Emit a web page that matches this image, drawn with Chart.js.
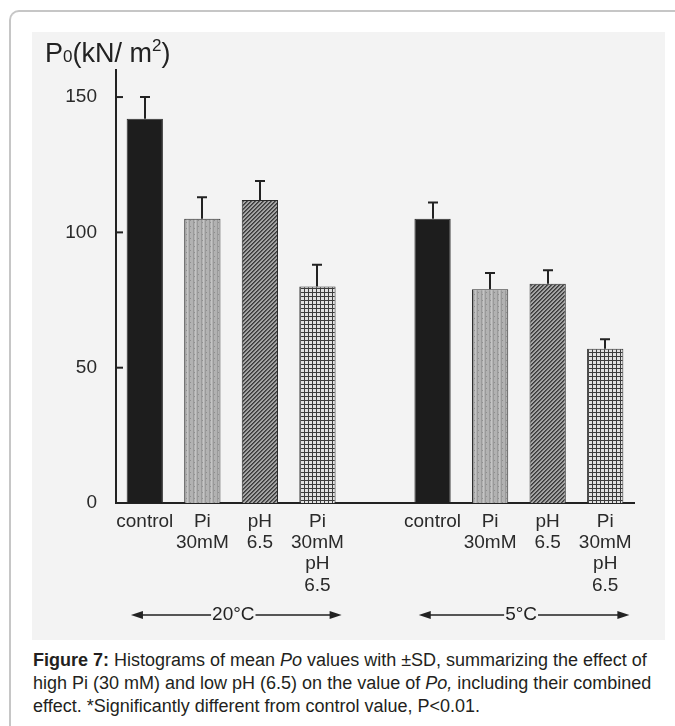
<!DOCTYPE html>
<html>
<head>
<meta charset="utf-8">
<script src="https://cdn.jsdelivr.net/npm/chart.js@4.4.1/dist/chart.umd.min.js"></script>
<style>
  html, body { margin: 0; padding: 0; background: #ffffff; overflow: hidden; }
  body { width: 675px; height: 726px; position: relative;
         font-family: "Liberation Sans", Arial, Helvetica, sans-serif; }
  #frame { position: absolute; left: 0; top: 0; width: 675px; height: 726px; overflow: hidden; }
  #card { position: absolute; left: 9px; top: 10px; width: 700px; height: 760px;
          border-top: 2px solid #c6c6c6; border-left: 2px solid #c6c6c6;
          border-top-left-radius: 10px; box-sizing: border-box; }
  #paper { position: absolute; left: 32px; top: 32px; width: 633px; height: 608px;
           background: #f3f3f3; }
  #paper canvas { position: absolute; left: 0; top: 0; }
  #caption { position: absolute; left: 33px; top: 649px; font-size: 18px;
             line-height: 23px; color: #231f20; white-space: nowrap; }
</style>
</head>
<body>
<div id="frame">
  <div id="card"></div>
  <div id="paper"><canvas id="chart"></canvas></div>
  <div id="caption"><b>Figure 7:</b> Histograms of mean <i>Po</i> values with ±SD, summarizing the effect of<br>high Pi (30 mM) and low pH (6.5) on the value of <i>Po,</i> including their combined<br>effect. *Significantly different from control value, P&lt;0.01.</div>
</div>
<script>
// Conditions along the x axis; the empty slot separates the two temperatures.
const categories = [
  ['control'], ['Pi', '30mM'], ['pH', '6.5'], ['Pi', '30mM', 'pH', '6.5'],
  '',
  ['control'], ['Pi', '30mM'], ['pH', '6.5'], ['Pi', '30mM', 'pH', '6.5']
];
// Mean isometric tension Po (kN/m²) and its SD
const meanPo = [142, 105, 112, 80, null, 105, 79, 81, 57];
const sdPo   = [8, 8, 7, 8, null, 6, 6, 5, 3.5];
// Fill style key per bar
const fillKind = ['solid', 'stipple', 'hatch', 'grid', 'solid', 'solid', 'stipple', 'hatch', 'grid'];
// Temperature groups beneath the labels
const groupNames = ['20°C', '5°C'];
const groupFrom  = [0, 5];
const groupTo    = [3, 8];
// Y-axis ticks
const yTicks = [0, 50, 100, 150];

function makeTile(w, h, draw) {
  const c = document.createElement('canvas');
  c.width = w; c.height = h;
  draw(c.getContext('2d'));
  return document.createElement('canvas').getContext('2d').createPattern(c, 'repeat');
}
const fills = {
  solid: '#1d1d1d',
  stipple: makeTile(8, 6, g => {
    g.fillStyle = '#b2b2b2'; g.fillRect(0, 0, 8, 6);
    g.fillStyle = '#9a9a9a'; g.fillRect(1, 0, 1, 6); g.fillRect(5, 0, 1, 6);
    g.fillStyle = '#c4c4c4'; g.fillRect(3, 0, 1, 6);
    g.fillStyle = '#8e8e8e'; g.fillRect(6, 2, 1, 1); g.fillRect(2, 4, 1, 1);
  }),
  hatch: makeTile(4, 4, g => {
    g.fillStyle = '#a4a4a4'; g.fillRect(0, 0, 4, 4);
    g.fillStyle = '#3a3a3a';
    for (let i = 0; i < 4; i++) { g.fillRect(i, 3 - i, 1, 1); }
    g.fillStyle = '#5a5a5a';
    for (let i = 0; i < 4; i++) { g.fillRect((i + 1) % 4, 3 - i, 1, 1); }
  }),
  grid: makeTile(4, 4, g => {
    g.fillStyle = '#e2e2e2'; g.fillRect(0, 0, 4, 4);
    g.fillStyle = '#3c3c3c'; g.fillRect(0, 0, 4, 1); g.fillRect(0, 0, 1, 4);
  })
};

const ink = '#222222';
const font = '"Liberation Sans", Arial, Helvetica, sans-serif';

const decor = {
  id: 'decor',
  afterDatasetsDraw(chart) {
    const { ctx, chartArea } = chart;
    const x = chart.scales.x, y = chart.scales.y;
    ctx.save();
    // upper SD whiskers
    ctx.strokeStyle = ink; ctx.lineWidth = 2;
    meanPo.forEach((m, i) => {
      if (m == null) return;
      const cx = Math.round(x.getPixelForValue(i));
      const y0 = y.getPixelForValue(m), y1 = y.getPixelForValue(m + sdPo[i]);
      ctx.beginPath();
      ctx.moveTo(cx, y0); ctx.lineTo(cx, y1);
      ctx.moveTo(cx - 5, y1); ctx.lineTo(cx + 5, y1);
      ctx.stroke();
    });
    // inward tick marks on the y axis
    yTicks.forEach(v => {
      const py = y.getPixelForValue(v);
      ctx.beginPath(); ctx.moveTo(chartArea.left, py); ctx.lineTo(chartArea.left + 7, py); ctx.stroke();
    });
    ctx.restore();
  },
  afterDraw(chart) {
    const { ctx } = chart;
    const x = chart.scales.x;
    const step = x.getPixelForValue(1) - x.getPixelForValue(0);
    ctx.save();
    ctx.fillStyle = ink; ctx.strokeStyle = ink;
    // axis title Po(kN/ m²)
    ctx.textBaseline = 'alphabetic'; ctx.textAlign = 'left';
    let tx = 13; const ty = 30;
    const part = (s, size, dy) => { ctx.font = size + 'px ' + font; ctx.fillText(s, tx, ty + dy); tx += ctx.measureText(s).width; };
    part('P', 27, 0); part('0', 17, 0); part('(kN/ m', 27, 0); part('2', 17, -11); part(')', 27, 0);
    // temperature arrows
    const ay = 583;
    ctx.font = '19px ' + font; ctx.textAlign = 'center'; ctx.textBaseline = 'middle';
    groupNames.forEach((name, k) => {
      const l = x.getPixelForValue(groupFrom[k]) - 0.24 * step;
      const r = x.getPixelForValue(groupTo[k]) + 0.42 * step;
      const mid = (l + r) / 2 - 3;
      const half = ctx.measureText(name).width / 2 + 1;
      ctx.lineWidth = 1.5;
      ctx.beginPath();
      ctx.moveTo(l + 8, ay); ctx.lineTo(mid - half, ay);
      ctx.moveTo(mid + half, ay); ctx.lineTo(r - 8, ay);
      ctx.stroke();
      ctx.beginPath(); ctx.moveTo(l, ay); ctx.lineTo(l + 12, ay - 4); ctx.lineTo(l + 12, ay + 4); ctx.closePath(); ctx.fill();
      ctx.beginPath(); ctx.moveTo(r, ay); ctx.lineTo(r - 12, ay - 4); ctx.lineTo(r - 12, ay + 4); ctx.closePath(); ctx.fill();
      ctx.fillText(name, mid, ay);
    });
    ctx.restore();
  }
};

new Chart(document.getElementById('chart'), {
  type: 'bar',
  data: {
    labels: categories,
    datasets: [{
      data: meanPo,
      backgroundColor: fillKind.map(k => fills[k]),
      borderColor: '#2b2b2b',
      borderWidth: 1,
      barPercentage: 0.63,
      categoryPercentage: 1
    }]
  },
  options: {
    responsive: true,
    maintainAspectRatio: false,
    animation: false,
    devicePixelRatio: 1,
    layout: { padding: { top: 38, right: 31, left: 0, bottom: 0 } },
    plugins: { legend: { display: false }, tooltip: { enabled: false } },
    scales: {
      x: {
        offset: true,
        grid: { display: false, drawTicks: false },
        border: { display: true, color: ink, width: 2 },
        ticks: { autoSkip: false, maxRotation: 0, color: '#2a2a2a', padding: 8,
                 font: { family: font, size: 19, lineHeight: 1.12 } },
        afterFit: s => { s.height = 137; }
      },
      y: {
        min: 0, max: 160,
        grid: { display: false, drawTicks: false },
        border: { display: true, color: ink, width: 2 },
        ticks: { color: '#2a2a2a', padding: 19, font: { family: font, size: 19 } },
        afterBuildTicks: s => { s.ticks = yTicks.map(v => ({ value: v })); },
        afterFit: s => { s.width = 84; }
      }
    }
  },
  plugins: [decor]
});
</script>
</body>
</html>
